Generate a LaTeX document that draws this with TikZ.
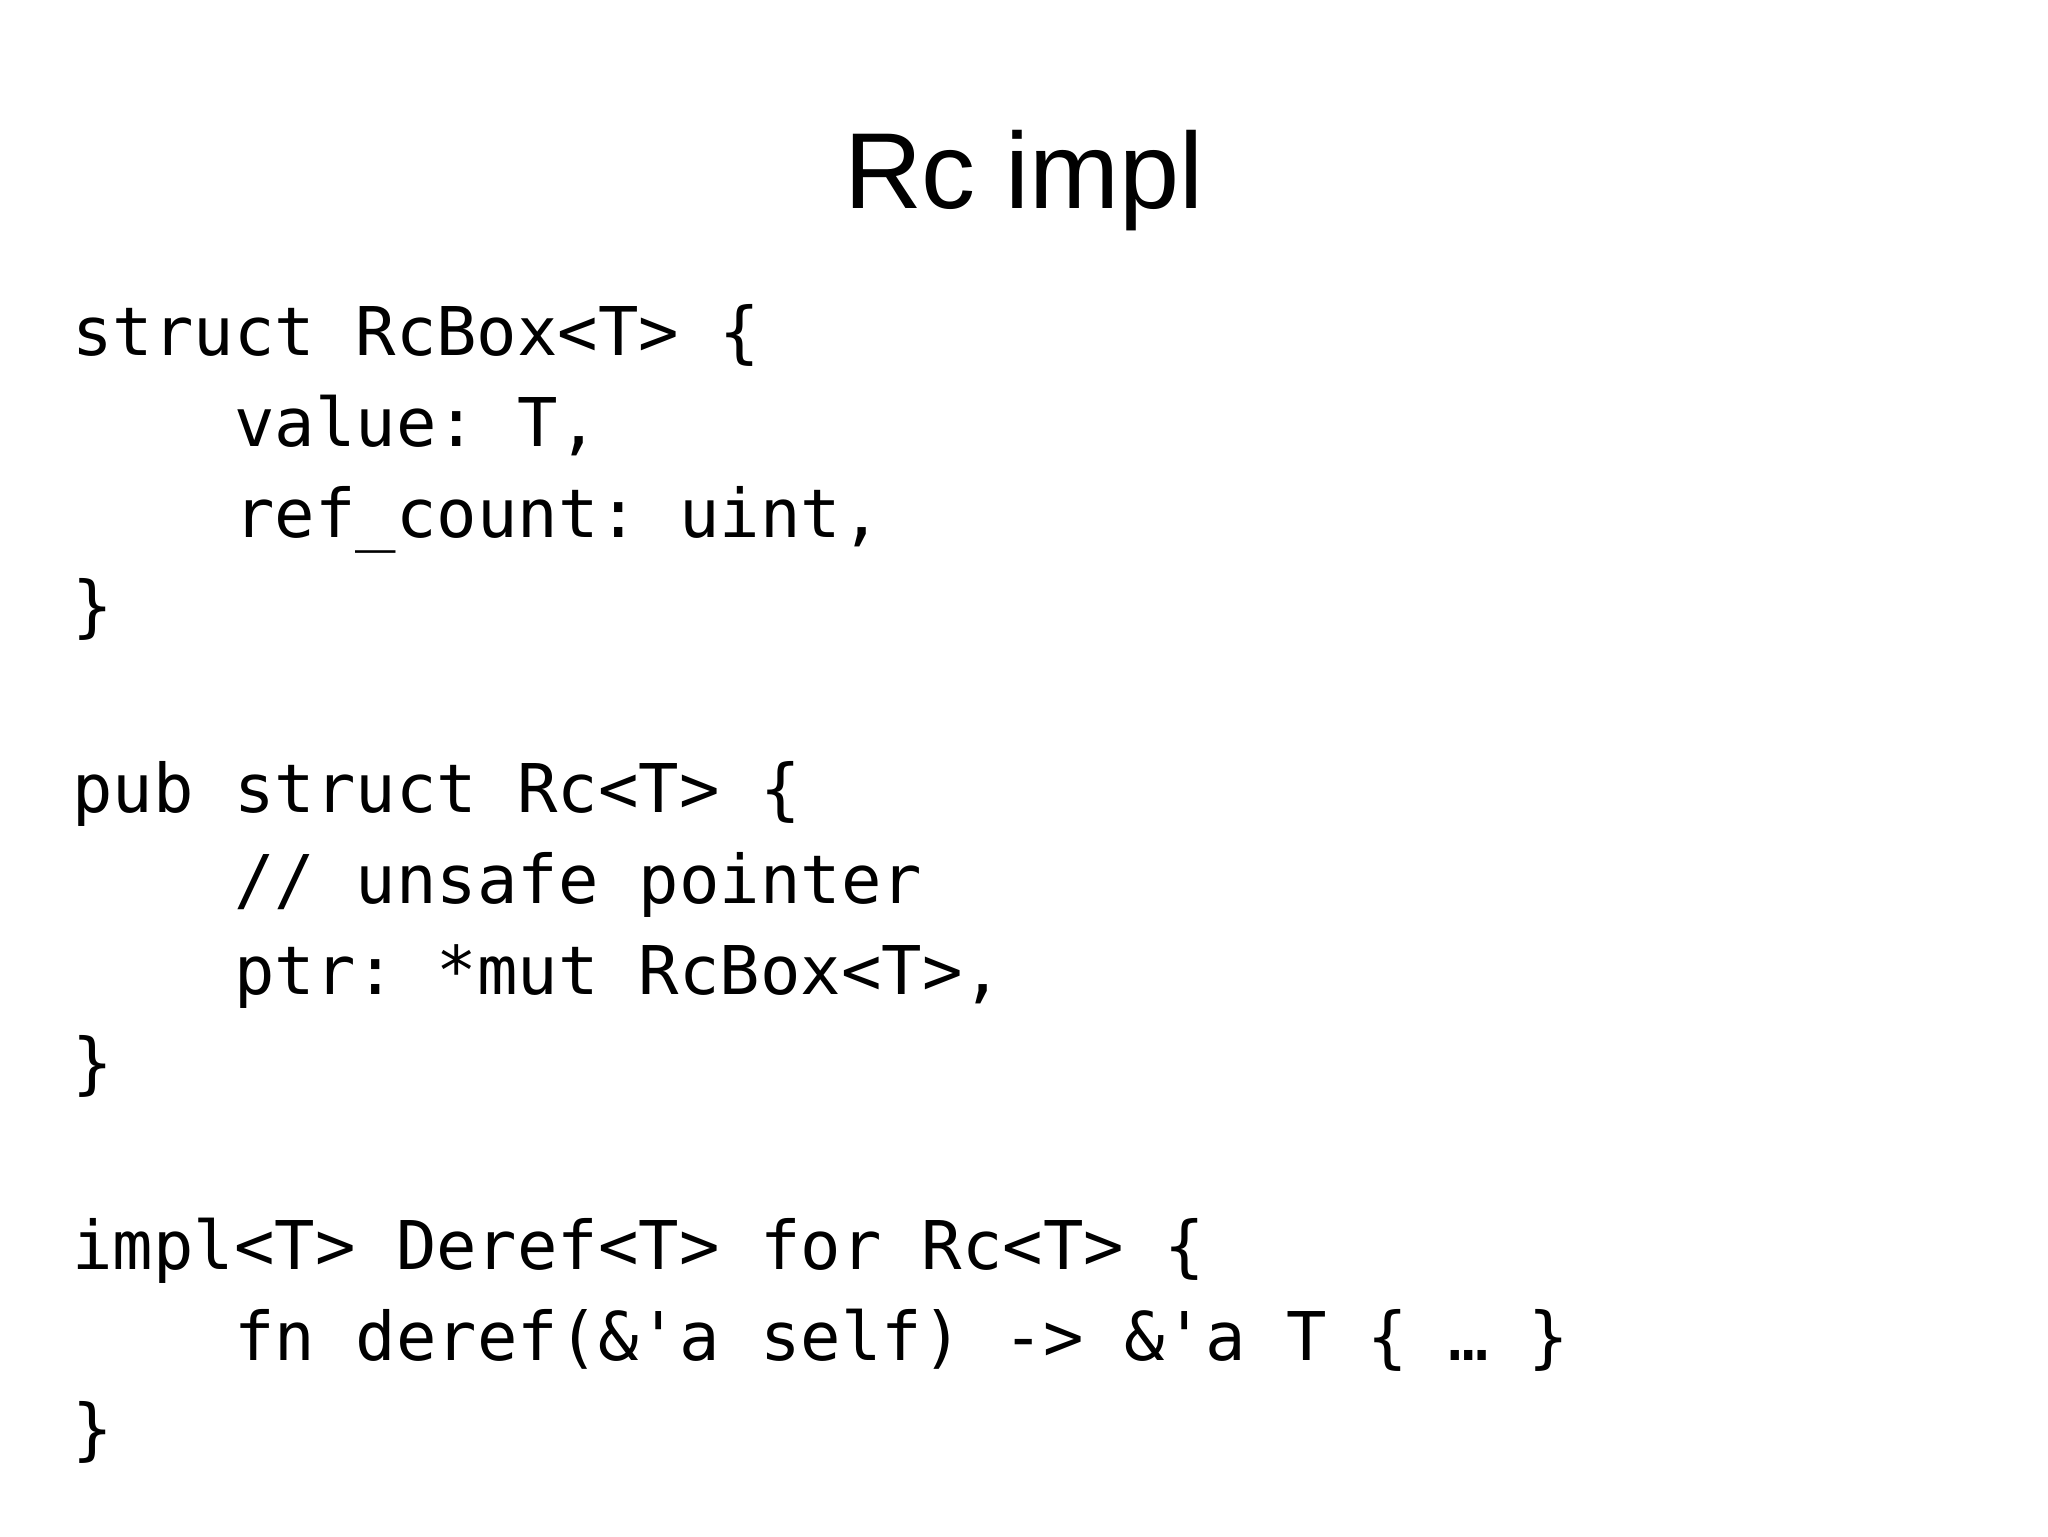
\documentclass[tikz,border=0pt]{standalone}
\usepackage{fontspec}
\setmainfont{Liberation Sans}
\setmonofont{DejaVu Sans Mono}
\begin{document}
\begin{tikzpicture}[x=1pt,y=1pt,
  code/.style={anchor=base west,inner sep=0pt,font=\fontsize{33.6}{40}\ttfamily}]
\useasboundingbox[fill=white] (0,0) rectangle (1024,768);
\node[anchor=base,inner sep=0pt,font=\fontsize{54}{60}\selectfont] (title) at (512,663.5) {Rc impl};
\def\ya{590.4}\def\dy{45.7}
\node[code] (l0) at (36,{\ya-0*\dy}) {struct RcBox<T> \{};
\node[code] (l1) at (117,{\ya-1*\dy}) {value: T,};
\node[code] (l2) at (117,{\ya-2*\dy}) {ref\_count: uint,};
\node[code] (l3) at (36,{\ya-3*\dy}) {\}};
\node[code] (l5) at (36,{\ya-5*\dy}) {pub struct Rc<T> \{};
\node[code] (l6) at (117,{\ya-6*\dy}) {// unsafe pointer};
\node[code] (l7) at (117,{\ya-7*\dy}) {ptr: *mut RcBox<T>,};
\node[code] (l8) at (36,{\ya-8*\dy}) {\}};
\node[code] (l10) at (36,{\ya-10*\dy}) {impl<T> Deref<T> for Rc<T> \{};
\node[code] (l11) at (117,{\ya-11*\dy}) {fn deref(\&'a self) -> \&'a T \{ … \}};
\node[code] (l12) at (36,{\ya-12*\dy}) {\}};
\end{tikzpicture}
\end{document}
